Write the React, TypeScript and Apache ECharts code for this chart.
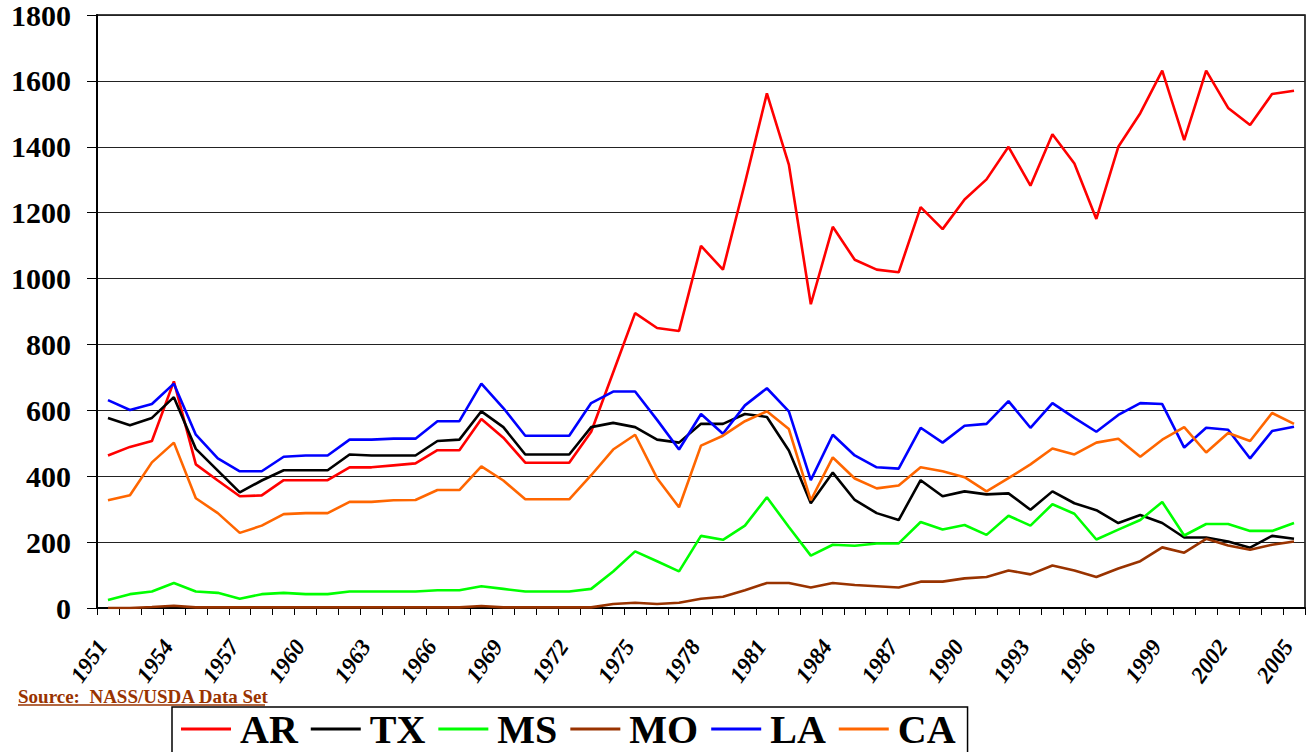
import React, { useEffect, useRef } from "react";
import * as echarts from "echarts";

const years: string[] = [];
for (let y = 1951; y <= 2005; y++) years.push(String(y));

const AR = [463, 489, 507, 688, 436, 387, 339, 342, 388, 388,
  388, 427, 427, 433, 439, 479, 479, 574, 517, 441,
  441, 441, 535, 715, 895, 850, 841, 1099, 1027, 1290,
  1562, 1346, 922, 1157, 1057, 1027, 1019, 1217, 1150, 1240,
  1301, 1400, 1282, 1438, 1349, 1181, 1400, 1502, 1631, 1420,
  1631, 1518, 1466, 1560, 1570];
const TX = [577, 555, 577, 640, 483, 417, 351, 387, 418, 418,
  418, 466, 463, 463, 463, 507, 511, 597, 549, 466,
  466, 466, 549, 562, 549, 511, 502, 559, 559, 589,
  580, 478, 318, 411, 328, 288, 267, 388, 339, 354,
  345, 348, 298, 354, 318, 297, 258, 282, 258, 214,
  214, 202, 183, 219, 210];
const MS = [24, 42, 50, 76, 50, 46, 28, 42, 46, 42,
  42, 50, 50, 50, 50, 54, 54, 66, 58, 50,
  50, 50, 58, 111, 172, 142, 111, 219, 207, 250,
  336, 246, 159, 192, 189, 196, 196, 261, 238, 252,
  222, 280, 250, 315, 286, 208, 238, 267, 322, 220,
  255, 255, 234, 234, 258];
const MO = [0, 0, 3, 7, 2, 2, 2, 2, 2, 2,
  2, 2, 2, 2, 2, 2, 2, 6, 2, 2,
  2, 2, 2, 12, 16, 12, 16, 28, 34, 54,
  76, 76, 62, 76, 70, 66, 62, 80, 80, 90,
  94, 114, 102, 129, 114, 94, 120, 142, 184, 168,
  210, 190, 177, 192, 202];
const LA = [631, 601, 619, 681, 526, 454, 415, 415, 459, 463,
  463, 511, 511, 514, 514, 567, 567, 681, 607, 523,
  523, 523, 622, 657, 657, 571, 481, 589, 529, 615,
  667, 597, 388, 526, 463, 427, 423, 547, 502, 553,
  559, 628, 547, 622, 577, 535, 586, 622, 619, 487,
  547, 541, 454, 537, 550];
const CA = [327, 342, 442, 502, 333, 288, 228, 250, 285, 288,
  288, 322, 322, 327, 328, 358, 358, 430, 387, 330,
  330, 330, 403, 481, 526, 394, 306, 493, 523, 567,
  597, 543, 327, 457, 393, 363, 372, 427, 415, 397,
  354, 394, 436, 484, 466, 502, 514, 459, 511, 549,
  472, 531, 507, 592, 559];

const seriesNames = ["AR", "TX", "MS", "MO", "LA", "CA"];
const seriesData = [AR, TX, MS, MO, LA, CA];
const seriesColors = ["#FF0000", "#000000", "#00FF00", "#993300", "#0000FF", "#FF6600"];
const sourceText = "Source:  NASS/USDA Data Set";

const FONT = "Liberation Serif";

export default function App() {
  const ref = useRef<HTMLDivElement>(null);
  useEffect(() => {
    if (!ref.current) return;
    const chart = echarts.init(ref.current, undefined, { renderer: "svg" });
    chart.setOption({
      animation: false,
      backgroundColor: "#fff",
      grid: {
        left: 97, right: 2, top: 15, bottom: 144,
        show: true, borderColor: "#000", borderWidth: 1.5,
      },
      xAxis: {
        type: "category",
        data: years,
        boundaryGap: true,
        axisLine: { lineStyle: { color: "#000", width: 2 } },
        axisTick: { show: true, interval: 0, length: 7, lineStyle: { color: "#000", width: 1 } },
        axisLabel: {
          interval: 2,
          rotate: 55,
          margin: 26,
          padding: [0, 10, 0, 0],
          color: "#000",
          fontSize: 23,
          fontWeight: "bold",
          fontStyle: "italic",
          fontFamily: FONT,
        },
        splitLine: { show: false },
      },
      yAxis: {
        type: "value",
        min: 0,
        max: 1800,
        interval: 200,
        axisLine: { show: true, lineStyle: { color: "#000", width: 2 } },
        axisTick: { show: true, length: 10, lineStyle: { color: "#000", width: 1 } },
        axisLabel: {
          margin: 26,
          color: "#000",
          fontSize: 30,
          fontWeight: "bold",
          fontFamily: FONT,
          formatter: (v: number) => String(v),
        },
        splitLine: { show: true, lineStyle: { color: "#222", width: 1 } },
      },
      legend: {
        left: 172,
        top: 707,
        orient: "horizontal",
        icon: "rect",
        itemWidth: 50,
        itemHeight: 3,
        itemGap: 13,
        borderColor: "#000",
        borderWidth: 1.5,
        padding: [2, 12, 20, 9],
        textStyle: {
          color: "#000",
          fontSize: 40,
          fontWeight: "bold",
          fontFamily: FONT,
          padding: [0, 0, 0, 4],
        },
        data: seriesNames,
      },
      graphic: [
        {
          type: "text",
          left: 18,
          top: 687,
          style: {
            text: sourceText,
            fill: "#993300",
            font: `bold 19px ${FONT}`,
          },
        },
        {
          type: "line",
          shape: { x1: 18, y1: 705, x2: 265, y2: 705 },
          style: { stroke: "#993300", lineWidth: 1.5 },
        },
      ],
      series: seriesNames.map((name, i) => ({
        name,
        type: "line",
        data: seriesData[i],
        symbol: "none",
        color: seriesColors[i],
        lineStyle: { color: seriesColors[i], width: 2.6 },
      })),
    });
    return () => chart.dispose();
  }, []);
  return (
    <div
      ref={ref}
      style={{ position: "fixed", left: 0, top: 0, width: 1307, height: 752 }}
    />
  );
}
